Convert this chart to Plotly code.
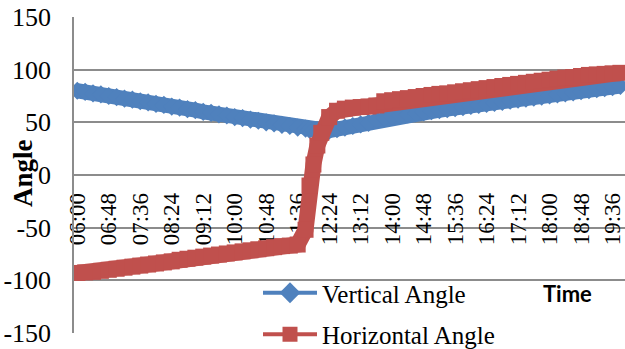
import plotly.graph_objects as go

times = ["06:00", "06:12", "06:24", "06:36", "06:48", "07:00", "07:12", "07:24", "07:36", "07:48",
         "08:00", "08:12", "08:24", "08:36", "08:48", "09:00", "09:12", "09:24", "09:36", "09:48",
         "10:00", "10:12", "10:24", "10:36", "10:48", "11:00", "11:12", "11:24", "11:36", "11:48",
         "11:54", "12:00", "12:06", "12:12", "12:24", "12:36", "12:48", "13:00", "13:12", "13:24",
         "13:36", "13:48", "14:00", "14:12", "14:24", "14:36", "14:48", "15:00", "15:12", "15:24",
         "15:36", "15:48", "16:00", "16:12", "16:24", "16:36", "16:48", "17:00", "17:12", "17:24",
         "17:36", "17:48", "18:00", "18:12", "18:24", "18:36", "18:48", "19:00", "19:12", "19:24",
         "19:36", "19:48"]

vertical_angle = [80, 79, 77.5, 76.5, 75, 74, 72.5, 71.5, 70, 69,
                  67.5, 66.5, 65, 64, 62.5, 61.5, 60, 59, 57.5, 56.5,
                  55, 54, 52.5, 51.5, 50, 49, 47.5, 46.5, 45, 44,
                  43, 42.5, 42, 41.5, 42, 43.5, 45, 46.5, 48, 49.5,
                  52.5, 54.5, 55.5, 56.5, 57.5, 58.5, 59.5, 60.5, 61.5, 62.5,
                  63.5, 64.5, 65.5, 66.5, 67.5, 68.5, 69.5, 70.5, 71.5, 72.5,
                  73.5, 74.5, 75.5, 76.5, 77.5, 78.5, 79.5, 80.5, 81.5, 82.5,
                  83.5, 84.5]

horizontal_angle = [-93, -92.5, -92, -91, -90, -89, -88, -87, -86, -85,
                    -84, -83, -82, -80.5, -79.5, -78.5, -77.5, -76.5, -75.5, -74.5,
                    -73.5, -72.5, -71.5, -70.5, -69.5, -68.5, -67.5, -67, -66, -52,
                    -10, 10, 28, 40, 55, 61, 63, 64, 64.5, 65,
                    66, 70, 71, 72, 73, 74, 75, 76, 77, 77.5,
                    78.5, 79.5, 80.5, 81.5, 82.5, 83.5, 84.5, 85.5, 86.5, 87.5,
                    88.5, 89.5, 90.5, 91.5, 92.5, 93, 94, 95, 95.5, 96,
                    96.5, 97]

series_names = ["Vertical Angle", "Horizontal Angle"]
y_ticks = [-150, -100, -50, 0, 50, 100, 150]
y_tick_labels = ["-150", "-100", "-50", "0", "50", "100", "150"]

DAY = "2024-01-01 "
xs = [DAY + t for t in times]

BLUE = "#4F81BD"
RED = "#C0504D"
GRID = "#8C8C8C"
SERIF = "Liberation Serif, Times New Roman, serif"

fig = go.Figure()
fig.add_trace(go.Scatter(x=xs, y=vertical_angle, mode="lines+markers", showlegend=False,
                         line=dict(color=BLUE, width=15),
                         marker=dict(symbol="diamond", size=14, color=BLUE)))
fig.add_trace(go.Scatter(x=xs, y=horizontal_angle, mode="lines+markers", showlegend=False,
                         line=dict(color=RED, width=16),
                         marker=dict(symbol="square", size=16, color=RED)))
# legend entries
fig.add_trace(go.Scatter(x=[None], y=[None], mode="lines+markers", name=series_names[0],
                         legendgroup="a", line=dict(color=BLUE, width=4),
                         marker=dict(symbol="diamond", size=16, color=BLUE)))
fig.add_trace(go.Scatter(x=[None], y=[None], mode="lines+markers", name=series_names[1],
                         legendgroup="b", line=dict(color=RED, width=4),
                         marker=dict(symbol="square", size=15, color=RED)))

fig.update_layout(
    width=625, height=349,
    margin=dict(l=74, r=0, t=17, b=16, autoexpand=False),
    paper_bgcolor="white", plot_bgcolor="white",
    font=dict(family=SERIF, size=24, color="black"),
    xaxis=dict(
        type="date",
        range=[DAY + "05:55", DAY + "19:55"],
        tick0=DAY + "06:00", dtick=48 * 60 * 1000,
        tickformat="%H:%M", tickangle=-90,
        tickfont=dict(family=SERIF, size=23, color="black"),
        showgrid=False, zeroline=False,
        showline=True, linecolor=GRID, linewidth=1.5,
        anchor="free", position=0.5, layer="below traces",
        ticks="", ticklabelstandoff=8, automargin=False,
        ticklabeloverflow="allow",
    ),
    yaxis=dict(
        range=[-150, 150], tickvals=y_ticks, ticktext=y_tick_labels,
        showgrid=True, gridcolor=GRID, gridwidth=1.5,
        zeroline=False, showline=True, linecolor=GRID, linewidth=1.5,
        tickfont=dict(family=SERIF, size=26, color="black"),
        ticks="", ticklabelstandoff=16, automargin=False,
    ),
    legend=dict(
        x=(258 - 74) / 551, y=(333 - 270) / 316, xanchor="left", yanchor="top",
        bgcolor="rgba(0,0,0,0)", font=dict(family=SERIF, size=25, color="black"),
        itemwidth=54, tracegroupgap=6, traceorder="grouped",
    ),
    annotations=[
        dict(text="<b>Angle</b>", textangle=-90, xref="paper", yref="paper",
             x=(23 - 74) / 551, y=(333 - 173) / 316, xanchor="center", yanchor="middle",
             showarrow=False, font=dict(family=SERIF, size=27, color="black")),
        dict(text="<b>Time</b>", xref="paper", yref="paper",
             x=(567 - 74) / 551, y=(333 - 293) / 316, xanchor="center", yanchor="middle",
             showarrow=False,
             font=dict(family="Lato, Carlito, sans-serif", size=22, color="black")),
    ],
)

fig.write_html("out.html", post_script="document.body.style.margin='0';",
               config={"displayModeBar": False})
